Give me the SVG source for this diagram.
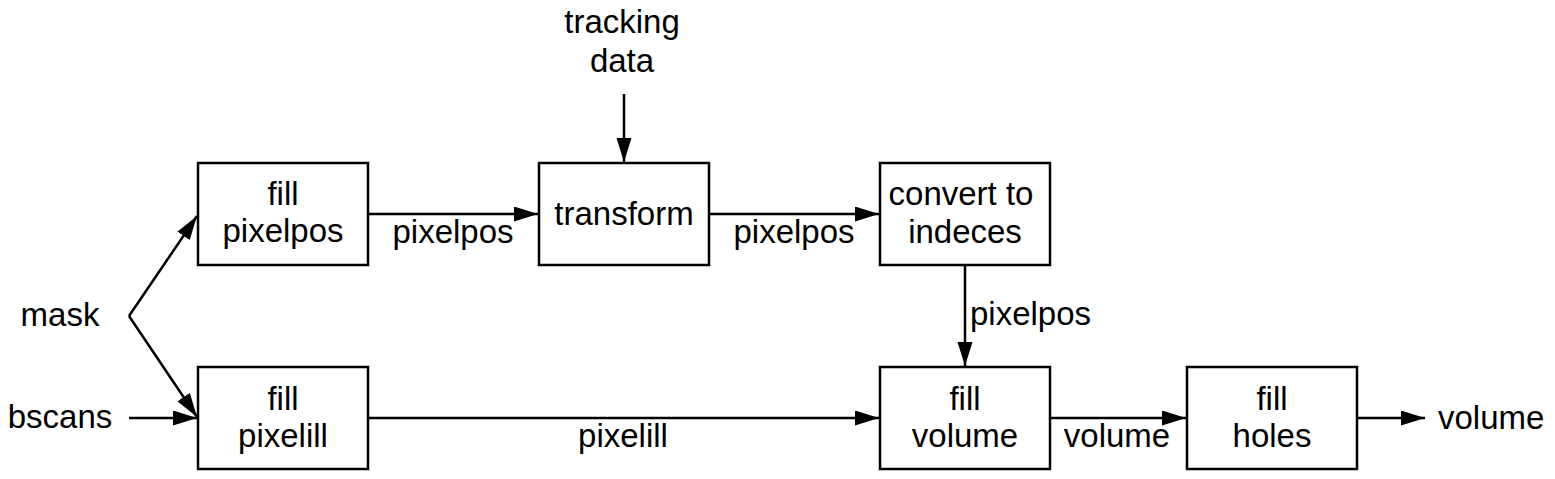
<svg xmlns="http://www.w3.org/2000/svg" width="1555" height="479" viewBox="0 0 1555 479">
<style>
text{font-family:"Liberation Sans",Arial,sans-serif;font-size:33px;fill:#000;text-anchor:middle}
.box{fill:#fff;stroke:#000;stroke-width:2.5}
.edge{fill:none;stroke:#000;stroke-width:2.5;marker-end:url(#arr)}
</style>
<defs>
<marker id="arr" markerUnits="userSpaceOnUse" markerWidth="25" markerHeight="16" refX="24" refY="7.5" orient="auto">
<path d="M0,0 L24,7.5 L0,15 Z" fill="#000"/>
</marker>
</defs>
<rect width="1555" height="479" fill="#fff"/>
<g id="connectors">
<path class="edge" d="M129,316 L197,216"/>
<path class="edge" d="M129,316 L197,417"/>
<path class="edge" d="M129,418 L197,418"/>
<path class="edge" d="M368,214 L538,214"/>
<path class="edge" d="M624,94 L624,162"/>
<path class="edge" d="M709,214 L879,214"/>
<path class="edge" d="M965,265 L965,366"/>
<path class="edge" d="M368,418 L879,418"/>
<path class="edge" d="M1050,418 L1186,418"/>
<path class="edge" d="M1356,418 L1425,418"/>
<text x="453" y="243">pixelpos</text>
<text x="794" y="243">pixelpos</text>
<text x="970" y="325" style="text-anchor:start">pixelpos</text>
<text x="623" y="447">pixelill</text>
<text x="1117" y="447">volume</text>
</g>
<g id="in-mask"><text x="60" y="326">mask</text></g>
<g id="in-bscans"><text x="60" y="428">bscans</text></g>
<g id="in-tracking"><text x="622" y="33">tracking</text><text x="622" y="72">data</text></g>
<g id="out-volume"><text x="1438" y="429" style="text-anchor:start">volume</text></g>
<g id="fill-pixelpos">
<rect class="box" x="198" y="163" width="170" height="102"/>
<text x="283" y="205">fill</text><text x="283" y="242">pixelpos</text>
</g>
<g id="transform">
<rect class="box" x="539" y="163" width="170" height="102"/>
<text x="624" y="225">transform</text>
</g>
<g id="convert">
<rect class="box" x="880" y="163" width="170" height="102"/>
<text x="961" y="205">convert to</text><text x="965" y="243">indeces</text>
</g>
<g id="fill-pixelill">
<rect class="box" x="198" y="367" width="170" height="102"/>
<text x="283" y="410">fill</text><text x="283" y="447">pixelill</text>
</g>
<g id="fill-volume">
<rect class="box" x="880" y="367" width="170" height="102"/>
<text x="965" y="410">fill</text><text x="965" y="447">volume</text>
</g>
<g id="fill-holes">
<rect class="box" x="1187" y="367" width="170" height="102"/>
<text x="1272" y="410">fill</text><text x="1272" y="447">holes</text>
</g>
</svg>
